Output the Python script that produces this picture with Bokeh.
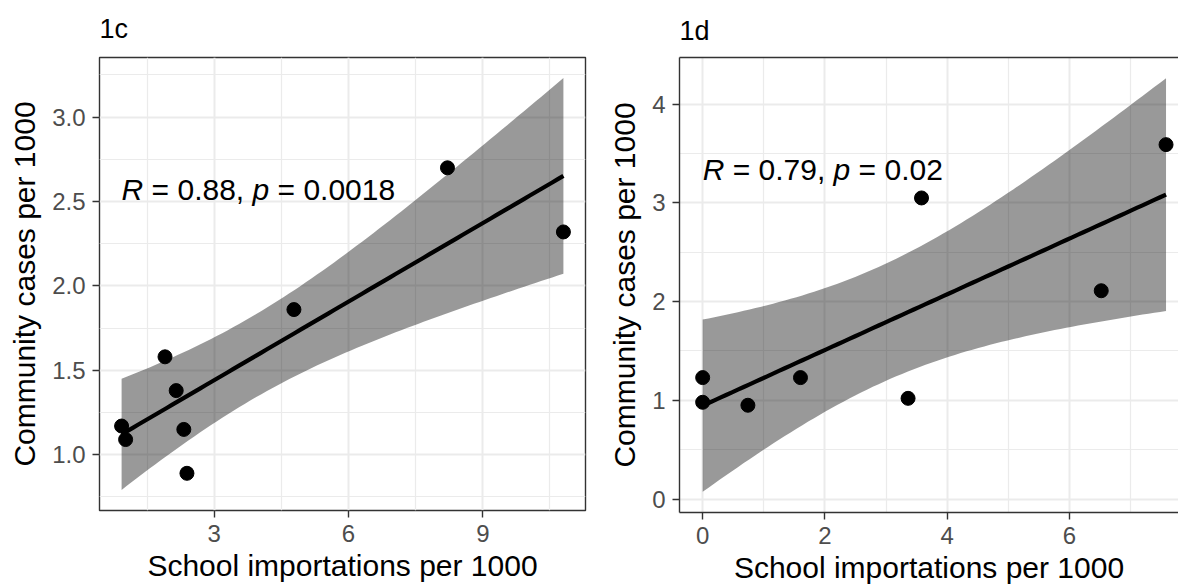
import numpy as np
from bokeh.plotting import figure
from bokeh.layouts import row
from bokeh.models import FixedTicker, PrintfTickFormatter, ColumnDataSource, LinearAxis, Range1d
from bokeh.core.properties import value
from bokeh.embed import file_html
from bokeh.resources import INLINE

# ---------------- data ----------------
x_1c = [0.93, 1.02, 1.90, 2.15, 2.32, 2.39, 4.78, 8.21, 10.80]
y_1c = [1.17, 1.09, 1.58, 1.38, 1.15, 0.89, 1.86, 2.70, 2.32]

x_1d = [0.0, 0.0, 0.74, 1.60, 3.36, 3.58, 6.52, 7.58]
y_1d = [1.23, 0.98, 0.95, 1.23, 1.02, 3.05, 2.11, 3.59]

panel_titles = ["1c", "1d"]
x_title = "School importations per 1000"
y_title = "Community cases per 1000"

xticks_1c = [3, 6, 9]
xminor_1c = [1.5, 4.5, 7.5, 10.5]
yticks_1c = [1.0, 1.5, 2.0, 2.5, 3.0]
yminor_1c = [0.75, 1.25, 1.75, 2.25, 2.75, 3.25]

xticks_1d = [0, 2, 4, 6]
xminor_1d = [1, 3, 5, 7]
yticks_1d = [0, 1, 2, 3, 4]
yminor_1d = [0.5, 1.5, 2.5, 3.5]

stat_r = ["0.88", "0.79"]
stat_p = ["0.0018", "0.02"]
label_x = [0.93, 0.0]
label_y = [2.57, 3.34]

# Student t 97.5% quantiles by degrees of freedom (for the 95% band)
T_QUANT = {6: 2.446912, 7: 2.364624}

FONT = "Liberation Sans"
# Arial / Liberation Sans advance widths (em)
CW = {"0": .556, "1": .556, "2": .556, "3": .556, "4": .556, "5": .556, "6": .556,
      "7": .556, "8": .556, "9": .556, ".": .278, ",": .278, " ": .278, "=": .584,
      "R": .722, "p": .556}


def tw(s, size):
    return sum(CW[c] for c in s) * size


def lm_band(x, y, n=80):
    x = np.asarray(x, float)
    y = np.asarray(y, float)
    nobs = len(x)
    mx = x.mean()
    sxx = ((x - mx) ** 2).sum()
    b = ((x - mx) * (y - y.mean())).sum() / sxx
    a = y.mean() - b * mx
    s = np.sqrt(((y - (a + b * x)) ** 2).sum() / (nobs - 2))
    xs = np.linspace(x.min(), x.max(), n)
    yh = a + b * xs
    se = s * np.sqrt(1.0 / nobs + (xs - mx) ** 2 / sxx)
    t = T_QUANT[nobs - 2]
    return xs, yh, yh - t * se, yh + t * se


def make_panel(x, y, title, xt, xm, yt, ym, yfmt, r, pv, lx, ly,
               fw, fh, bl, br, bt, bb, visible_frac=1.0, outline=True, title_standoff=24):
    xs, yh, lo, hi = lm_band(x, y)
    x0, x1 = min(x), max(x)
    rx = x1 - x0
    xs_start = x0 - 0.05 * rx
    xs_end = xs_start + 1.1 * rx * visible_frac
    y0 = min(min(y), lo.min())
    y1 = max(max(y), hi.max())
    ry = y1 - y0
    ys_start, ys_end = y0 - 0.05 * ry, y1 + 0.05 * ry

    p = figure(frame_width=fw, frame_height=fh,
               x_range=Range1d(xs_start, xs_end), y_range=Range1d(ys_start, ys_end),
               output_backend="svg", toolbar_location=None,
               min_border_left=bl, min_border_right=br, min_border_top=bt, min_border_bottom=bb,
               background_fill_color="white", border_fill_color="white")

    p.title.text = title
    p.title.text_font = FONT
    p.title.text_font_size = "27px"
    p.title.text_font_style = "normal"
    p.title.text_color = "black"
    p.title.align = "left"
    p.title.vertical_align = "top"
    p.title.offset = 0
    p.title.standoff = title_standoff

    p.xaxis.ticker = FixedTicker(ticks=xt, minor_ticks=xm)
    p.yaxis.ticker = FixedTicker(ticks=yt, minor_ticks=ym)
    p.yaxis.formatter = PrintfTickFormatter(format=yfmt)
    p.xaxis.formatter = PrintfTickFormatter(format="%d")

    for ax in (p.xaxis, p.yaxis):
        ax.minor_tick_line_color = None
        ax.major_tick_line_color = "#333333"
        ax.major_tick_line_width = 1.4
        ax.major_tick_out = 7
        ax.major_tick_in = 0
        ax.major_label_text_font = FONT
        ax.major_label_text_font_size = "24px"
        ax.major_label_text_color = "#4d4d4d"
        ax.axis_label_text_font = FONT
        ax.axis_label_text_font_size = "30px"
        ax.axis_label_text_font_style = "normal"
        ax.axis_label_text_color = "black"
        if outline:
            ax.axis_line_color = None
        else:
            ax.axis_line_color = "#333333"
            ax.axis_line_width = 1.4
    p.xaxis.axis_label = x_title
    p.yaxis.axis_label = y_title
    p.xaxis.major_label_standoff = 7
    p.xaxis.axis_label_standoff = 4
    p.yaxis.major_label_standoff = 7
    p.yaxis.axis_label_standoff = 8

    for g in (p.xgrid, p.ygrid):
        g.grid_line_color = "#ebebeb"
        g.grid_line_width = 2
        g.minor_grid_line_color = "#ebebeb"
        g.minor_grid_line_width = 1.2

    if outline:
        p.outline_line_color = "#333333"
        p.outline_line_width = 1.4
    else:
        p.outline_line_color = None
        top = LinearAxis(ticker=FixedTicker(ticks=[]), major_label_text_font_size="0px",
                         major_tick_out=0, minor_tick_out=0, major_label_standoff=0,
                         axis_line_color="#333333", axis_line_width=1.4)
        p.add_layout(top, "above")

    p.scatter(x, y, size=14, fill_color="black", line_color="black")
    p.varea(x=xs, y1=lo, y2=hi, fill_color="black", fill_alpha=0.4)
    p.line(xs, yh, line_color="black", line_width=4.2)

    # correlation label: italic R and p, upright rest
    size = 30
    segs = ["R", "= %s," % r, "p", "= %s" % pv]
    styles = ["italic", "normal", "italic", "normal"]
    offs = [0.0]
    offs.append(tw("R ", size))
    offs.append(offs[1] + tw("= %s, " % r, size))
    offs.append(offs[2] + tw("p ", size))
    src = ColumnDataSource(dict(x=[lx] * 4, y=[ly] * 4, text=segs, style=styles, off=offs))
    p.text(x="x", y="y", text="text", x_offset="off", source=src,
           text_font=value(FONT), text_font_size=value("%dpx" % size),
           text_font_style="style", text_color="black",
           text_align="left", text_baseline="middle")
    return p


p1 = make_panel(x_1c, y_1c, panel_titles[0], xticks_1c, xminor_1c, yticks_1c, yminor_1c, "%.1f",
                stat_r[0], stat_p[0], label_x[0], label_y[0],
                fw=486, fh=453, bl=99, br=5, bt=57, bb=74, title_standoff=24)
p2 = make_panel(x_1d, y_1d, panel_titles[1], xticks_1d, xminor_1d, yticks_1d, yminor_1d, "%d",
                stat_r[1], stat_p[1], label_x[1], label_y[1],
                fw=499, fh=455, bl=89, br=0, bt=54, bb=75, visible_frac=0.979, outline=False,
                title_standoff=20)

layout = row(p1, p2)
open("out.html", "w").write(file_html(layout, INLINE))
